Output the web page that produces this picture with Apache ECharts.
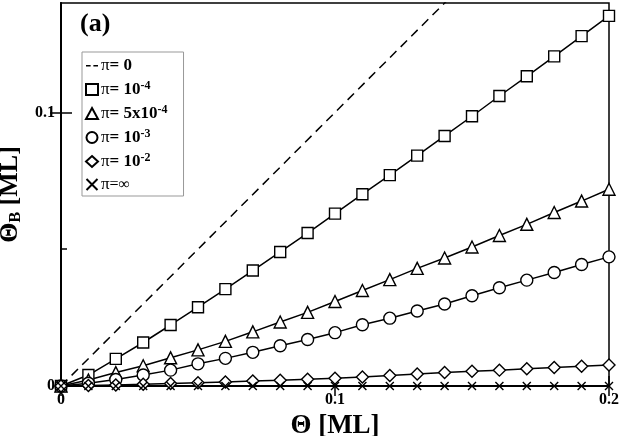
<!DOCTYPE html>
<html>
<head>
<meta charset="utf-8">
<script src="https://cdn.jsdelivr.net/npm/echarts@6/dist/echarts.min.js"></script>
<style>
  html, body { margin: 0; padding: 0; background: #fff; }
  #main { width: 623px; height: 436px; }
</style>
</head>
<body>
<div id="main"></div>
<script>
// coverage Θ [ML], 0 .. 0.2 step 0.01
var theta = [0, 0.01, 0.02, 0.03, 0.04, 0.05, 0.06, 0.07, 0.08, 0.09, 0.1,
  0.11, 0.12, 0.13, 0.14, 0.15, 0.16, 0.17, 0.18, 0.19, 0.2];

var pi0 = [[0, 0], [0.2, 0.2]];  // π = 0 : Θ_B = Θ
var pi1e4 = [0, 0.0040, 0.0099, 0.0159, 0.0223, 0.0288, 0.0354, 0.0422, 0.0490, 0.0559, 0.0630,
  0.0701, 0.0771, 0.0842, 0.0914, 0.0986, 0.1060, 0.1132, 0.1205, 0.1279, 0.1353];
var pi5e4 = [0, 0.0022, 0.0049, 0.0074, 0.0103, 0.0132, 0.0163, 0.0198, 0.0234, 0.0269, 0.0309,
  0.0349, 0.0389, 0.0430, 0.0468, 0.0508, 0.0550, 0.0591, 0.0634, 0.0676, 0.0719];
var pi1e3 = [0, 0.0010, 0.0024, 0.0040, 0.0058, 0.0081, 0.0101, 0.0123, 0.0147, 0.0170, 0.0195,
  0.0224, 0.0248, 0.0274, 0.0300, 0.0330, 0.0359, 0.0387, 0.0415, 0.0444, 0.0472];
var pi1e2 = [0, 0.0002, 0.0004, 0.0006, 0.0009, 0.0012, 0.0015, 0.0018, 0.0021, 0.0025, 0.0028,
  0.0033, 0.0038, 0.0044, 0.0049, 0.0054, 0.0058, 0.0063, 0.0068, 0.0072, 0.0077];
var piInf = [0, 0, 0, 0, 0, 0, 0, 0, 0, 0, 0, 0, 0, 0, 0, 0, 0, 0, 0, 0, 0];

var xTicks = [0, 0.1, 0.2];
var yTicks = [0, 0.1];

var FONT = 'Liberation Serif';
var CROSS = 'path://M0,0L10,10M10,0L0,10';
// two short dashes; the M points only stretch the box so the dashes stay thin
var DASH = 'path://M0,0M0,5h5v1.6h-5zM8,5h5v1.6h-5zM13,11';

function pairs(ys) {
  return theta.map(function (x, i) { return [x, ys[i]]; });
}

var labels = {
  p0: '{pi|π}{b|= 0}',
  p1e4: '{pi|π}{b|= 10}{sup|-4}',
  p5e4: '{pi|π}{b|= 5x10}{sup|-4}',
  p1e3: '{pi|π}{b|= 10}{sup|-3}',
  p1e2: '{pi|π}{b|= 10}{sup|-2}',
  pinf: '{pi|π}{n|=∞}'
};

function markerSeries(name, ys, symbol, size) {
  return {
    name: name,
    type: 'line',
    data: pairs(ys),
    symbol: symbol,
    symbolSize: size,
    showAllSymbol: true,
    lineStyle: { color: '#000', width: 1.5 },
    itemStyle: { color: '#fff', borderColor: '#000', borderWidth: 1.4 },
    emphasis: { disabled: true },
    z: 3
  };
}

var chart = echarts.init(document.getElementById('main'));

chart.setOption({
  animation: false,
  backgroundColor: '#fff',
  title: {
    text: '(a)',
    left: 75,
    top: 6,
    textStyle: { fontFamily: FONT, fontWeight: 'bold', fontSize: 26, color: '#000' }
  },
  grid: {
    left: 61, right: 14, top: 3, bottom: 50,
    outerBoundsMode: 'none',
    show: true, borderColor: '#000', borderWidth: 1.5
  },
  legend: {
    orient: 'vertical',
    left: 82,
    top: 52,
    padding: [5, 16, 3, 3],
    itemGap: 6,
    itemWidth: 12,
    itemHeight: 11,
    backgroundColor: '#fff',
    borderColor: '#999',
    borderWidth: 1,
    borderRadius: 0,
    selectedMode: false,
    data: [
      { name: 'p0', icon: DASH, itemStyle: { color: '#000', borderWidth: 0 } },
      { name: 'p1e4', icon: 'rect' },
      { name: 'p5e4', icon: 'triangle' },
      { name: 'p1e3', icon: 'circle' },
      { name: 'p1e2', icon: 'diamond' },
      { name: 'pinf', icon: CROSS }
    ],
    formatter: function (n) { return labels[n]; },
    textStyle: {
      color: '#000',
      padding: [0, 0, 0, -2],
      rich: {
        pi: { fontFamily: FONT, fontSize: 17, color: '#000', lineHeight: 19 },
        b: { fontFamily: FONT, fontWeight: 'bold', fontSize: 17, color: '#000', lineHeight: 19 },
        n: { fontFamily: FONT, fontSize: 16, color: '#000', lineHeight: 19 },
        sup: { fontFamily: FONT, fontWeight: 'bold', fontSize: 12, color: '#000', verticalAlign: 'top', lineHeight: 10 }
      }
    }
  },
  xAxis: [{
    type: 'value',
    min: 0,
    max: 0.2,
    interval: 0.1,
    name: 'Θ [ML]',
    nameLocation: 'middle',
    nameGap: 19,
    nameTextStyle: { fontFamily: FONT, fontWeight: 'bold', fontSize: 27, color: '#000', verticalAlign: 'top' },
    axisLine: { lineStyle: { color: '#000', width: 1.8 } },
    axisTick: { inside: true, length: 10, lineStyle: { color: '#000', width: 1.5 } },
    axisLabel: {
      margin: 6,
      fontFamily: FONT, fontWeight: 'bold', fontSize: 16, color: '#000',
      customValues: xTicks,
      formatter: function (v) { return v === 0 ? '0' : String(+v.toFixed(2)); }
    },
    splitLine: { show: false }
  }, {
    type: 'value',
    position: 'top',
    min: 0,
    max: 0.2,
    interval: 0.1,
    axisLine: { lineStyle: { color: '#000', width: 1.5 } },
    axisTick: { inside: true, length: 10, lineStyle: { color: '#000', width: 1.5 } },
    axisLabel: { show: false },
    splitLine: { show: false }
  }],
  yAxis: [{
    type: 'value',
    min: 0,
    max: 0.14,
    interval: 0.1,
    name: '{t|Θ}{s|B}{t| [ML]}',
    nameLocation: 'middle',
    nameGap: 35,
    nameTextStyle: {
      color: '#000',
      rich: {
        t: { fontFamily: FONT, fontWeight: 'bold', fontSize: 26, color: '#000', lineHeight: 28 },
        s: { fontFamily: FONT, fontWeight: 'bold', fontSize: 16, color: '#000', verticalAlign: 'bottom', lineHeight: 16 }
      }
    },
    axisLine: { lineStyle: { color: '#000', width: 1.5 } },
    axisTick: { inside: true, length: 11, customValues: [0.1], lineStyle: { color: '#000', width: 1.5 } },
    axisLabel: {
      margin: 6,
      fontFamily: FONT, fontWeight: 'bold', fontSize: 16, color: '#000',
      customValues: yTicks,
      formatter: function (v) { return v === 0 ? '0' : String(+v.toFixed(2)); }
    },
    splitLine: { show: false }
  }, {
    type: 'value',
    position: 'right',
    min: 0,
    max: 0.14,
    interval: 0.1,
    axisLine: { lineStyle: { color: '#000', width: 2 } },
    axisTick: { inside: true, length: 11, customValues: [0.1], lineStyle: { color: '#000', width: 1.5 } },
    axisLabel: { show: false },
    splitLine: { show: false }
  }, {
    type: 'value',
    position: 'left',
    min: 0,
    max: 0.14,
    axisLine: { show: false },
    axisTick: { inside: true, length: 6, customValues: [0.05], lineStyle: { color: '#000', width: 1.5 } },
    axisLabel: { show: false },
    splitLine: { show: false }
  }],
  series: [
    {
      name: 'p0',
      type: 'line',
      data: pi0,
      symbol: 'none',
      clip: true,
      lineStyle: { color: '#000', width: 1.5, type: [9, 6] },
      itemStyle: { color: '#000' },
      emphasis: { disabled: true },
      z: 2
    },
    markerSeries('p1e4', pi1e4, 'rect', 11),
    markerSeries('p5e4', pi5e4, 'triangle', 12),
    markerSeries('p1e3', pi1e3, 'circle', 12),
    markerSeries('p1e2', pi1e2, 'diamond', 12),
    markerSeries('pinf', piInf, CROSS, 8)
  ]
});
</script>
</body>
</html>
